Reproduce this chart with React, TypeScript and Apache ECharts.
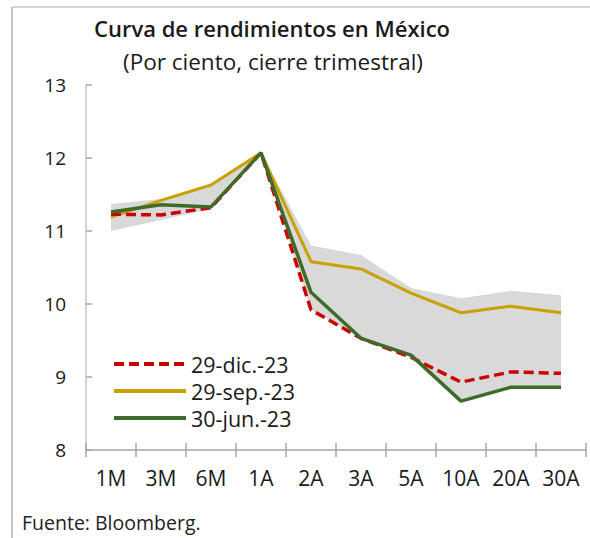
import React, { useEffect, useRef } from "react";
import * as echarts from "echarts";

const categories = ["1M", "3M", "6M", "1A", "2A", "3A", "5A", "10A", "20A", "30A"];
const dic23 = [11.23, 11.22, 11.32, 12.07, 9.92, 9.53, 9.27, 8.93, 9.07, 9.05];
const sep23 = [11.19, 11.42, 11.63, 12.07, 10.58, 10.48, 10.15, 9.88, 9.97, 9.88];
const jun23 = [11.26, 11.36, 11.33, 12.07, 10.16, 9.53, 9.3, 8.67, 8.86, 8.86];
const bandLow = [11.0, 11.15, 11.3, 12.07, 9.92, 9.53, 9.27, 8.67, 8.86, 8.86];
const bandHigh = [11.37, 11.44, 11.64, 12.07, 10.8, 10.67, 10.22, 10.08, 10.18, 10.12];
const yTicks = [8, 9, 10, 11, 12, 13];

const FONT = "'Open Sans', 'DejaVu Sans', sans-serif";

export default function App() {
  const ref = useRef<HTMLDivElement>(null);
  useEffect(() => {
    if (!ref.current) return;
    const chart = echarts.init(ref.current, null, { renderer: "svg" });
    const bandDiff = bandHigh.map((h, i) => +(h - bandLow[i]).toFixed(3));
    chart.setOption({
      animation: false,
      backgroundColor: "#ffffff",
      title: [
        {
          text: "Curva de rendimientos en México",
          left: 272,
          top: 17,
          padding: 0,
          textAlign: "center",
          textStyle: { fontFamily: FONT, fontSize: 22, lineHeight: 22, fontWeight: 600, color: "#1a1a1a" },
        },
        {
          text: "(Por ciento, cierre trimestral)",
          left: 273,
          top: 50,
          padding: 0,
          textAlign: "center",
          textStyle: { fontFamily: FONT, fontSize: 22.5, lineHeight: 22, fontWeight: 400, color: "#1a1a1a" },
        },
        {
          text: "Fuente: Bloomberg.",
          left: 22,
          top: 512,
          padding: 0,
          textStyle: { fontFamily: FONT, fontSize: 19.5, lineHeight: 20, fontWeight: 400, color: "#222" },
        },
      ],
      legend: {
        data: ["29-dic.-23", "29-sep.-23", "30-jun.-23"],
        orient: "vertical",
        left: 112,
        top: 353,
        padding: 0,
        itemWidth: 72,
        itemHeight: 14,
        itemGap: 5,
        itemStyle: { opacity: 0 },
        lineStyle: { width: 4 },
        textStyle: { fontFamily: FONT, fontSize: 21.5, lineHeight: 22, color: "#1a1a1a" },
      },
      grid: { left: 86, right: 4, top: 85, bottom: 88 },
      xAxis: [
        {
          type: "category",
          data: categories,
          boundaryGap: true,
          axisLine: { lineStyle: { color: "#a6a6a6", width: 1.5 } },
          axisTick: { show: true, length: 7, lineStyle: { color: "#a6a6a6", width: 1.5 } },
          axisLabel: { fontFamily: FONT, fontSize: 21, color: "#1a1a1a", margin: 17 },
        },
        {
          type: "category",
          data: categories,
          position: "bottom",
          boundaryGap: true,
          axisLine: { show: false },
          axisTick: { show: true, inside: true, length: 7, lineStyle: { color: "#a6a6a6", width: 1.5 } },
          axisLabel: { show: false },
        },
      ],
      yAxis: {
        type: "value",
        min: yTicks[0],
        max: yTicks[yTicks.length - 1],
        interval: 1,
        splitLine: { show: false },
        axisLine: { show: true, lineStyle: { color: "#c4c4c4", width: 1.5 } },
        axisTick: { show: true, inside: true, length: 6, lineStyle: { color: "#a6a6a6", width: 1.5 } },
        axisLabel: { fontFamily: FONT, fontSize: 19, color: "#1a1a1a", margin: 20 },
      },
      series: [
        {
          name: "bandBase",
          type: "line",
          stack: "band",
          data: bandLow,
          symbol: "none",
          lineStyle: { opacity: 0 },
          silent: true,
          z: 1,
        },
        {
          name: "band",
          type: "line",
          stack: "band",
          data: bandDiff,
          symbol: "none",
          lineStyle: { opacity: 0 },
          areaStyle: { color: "#d9d9d9", opacity: 1 },
          silent: true,
          z: 1,
        },
        {
          name: "29-dic.-23",
          type: "line",
          data: dic23,
          symbol: "none",
          lineStyle: { color: "#cc0000", width: 3.5, type: [10, 5] },
          itemStyle: { color: "#cc0000" },
          z: 5,
        },
        {
          name: "29-sep.-23",
          type: "line",
          data: sep23,
          symbol: "none",
          lineStyle: { color: "#c9a000", width: 3 },
          itemStyle: { color: "#c9a000" },
          z: 4,
        },
        {
          name: "30-jun.-23",
          type: "line",
          data: jun23,
          symbol: "none",
          lineStyle: { color: "#3f6b2a", width: 3.5 },
          itemStyle: { color: "#3f6b2a" },
          z: 6,
        },
      ],
      graphic: [
        {
          type: "line",
          shape: { x1: 12, y1: 7, x2: 590, y2: 7 },
          style: { stroke: "#c8c8c8", lineWidth: 1.5 },
          silent: true,
        },
        {
          type: "line",
          shape: { x1: 12, y1: 7, x2: 12, y2: 538 },
          style: { stroke: "#b0b0b0", lineWidth: 1.5 },
          silent: true,
        },
      ],
    });
    return () => chart.dispose();
  }, []);
  return <div ref={ref} style={{ width: 590, height: 538, position: "absolute", left: 0, top: 0 }} />;
}
